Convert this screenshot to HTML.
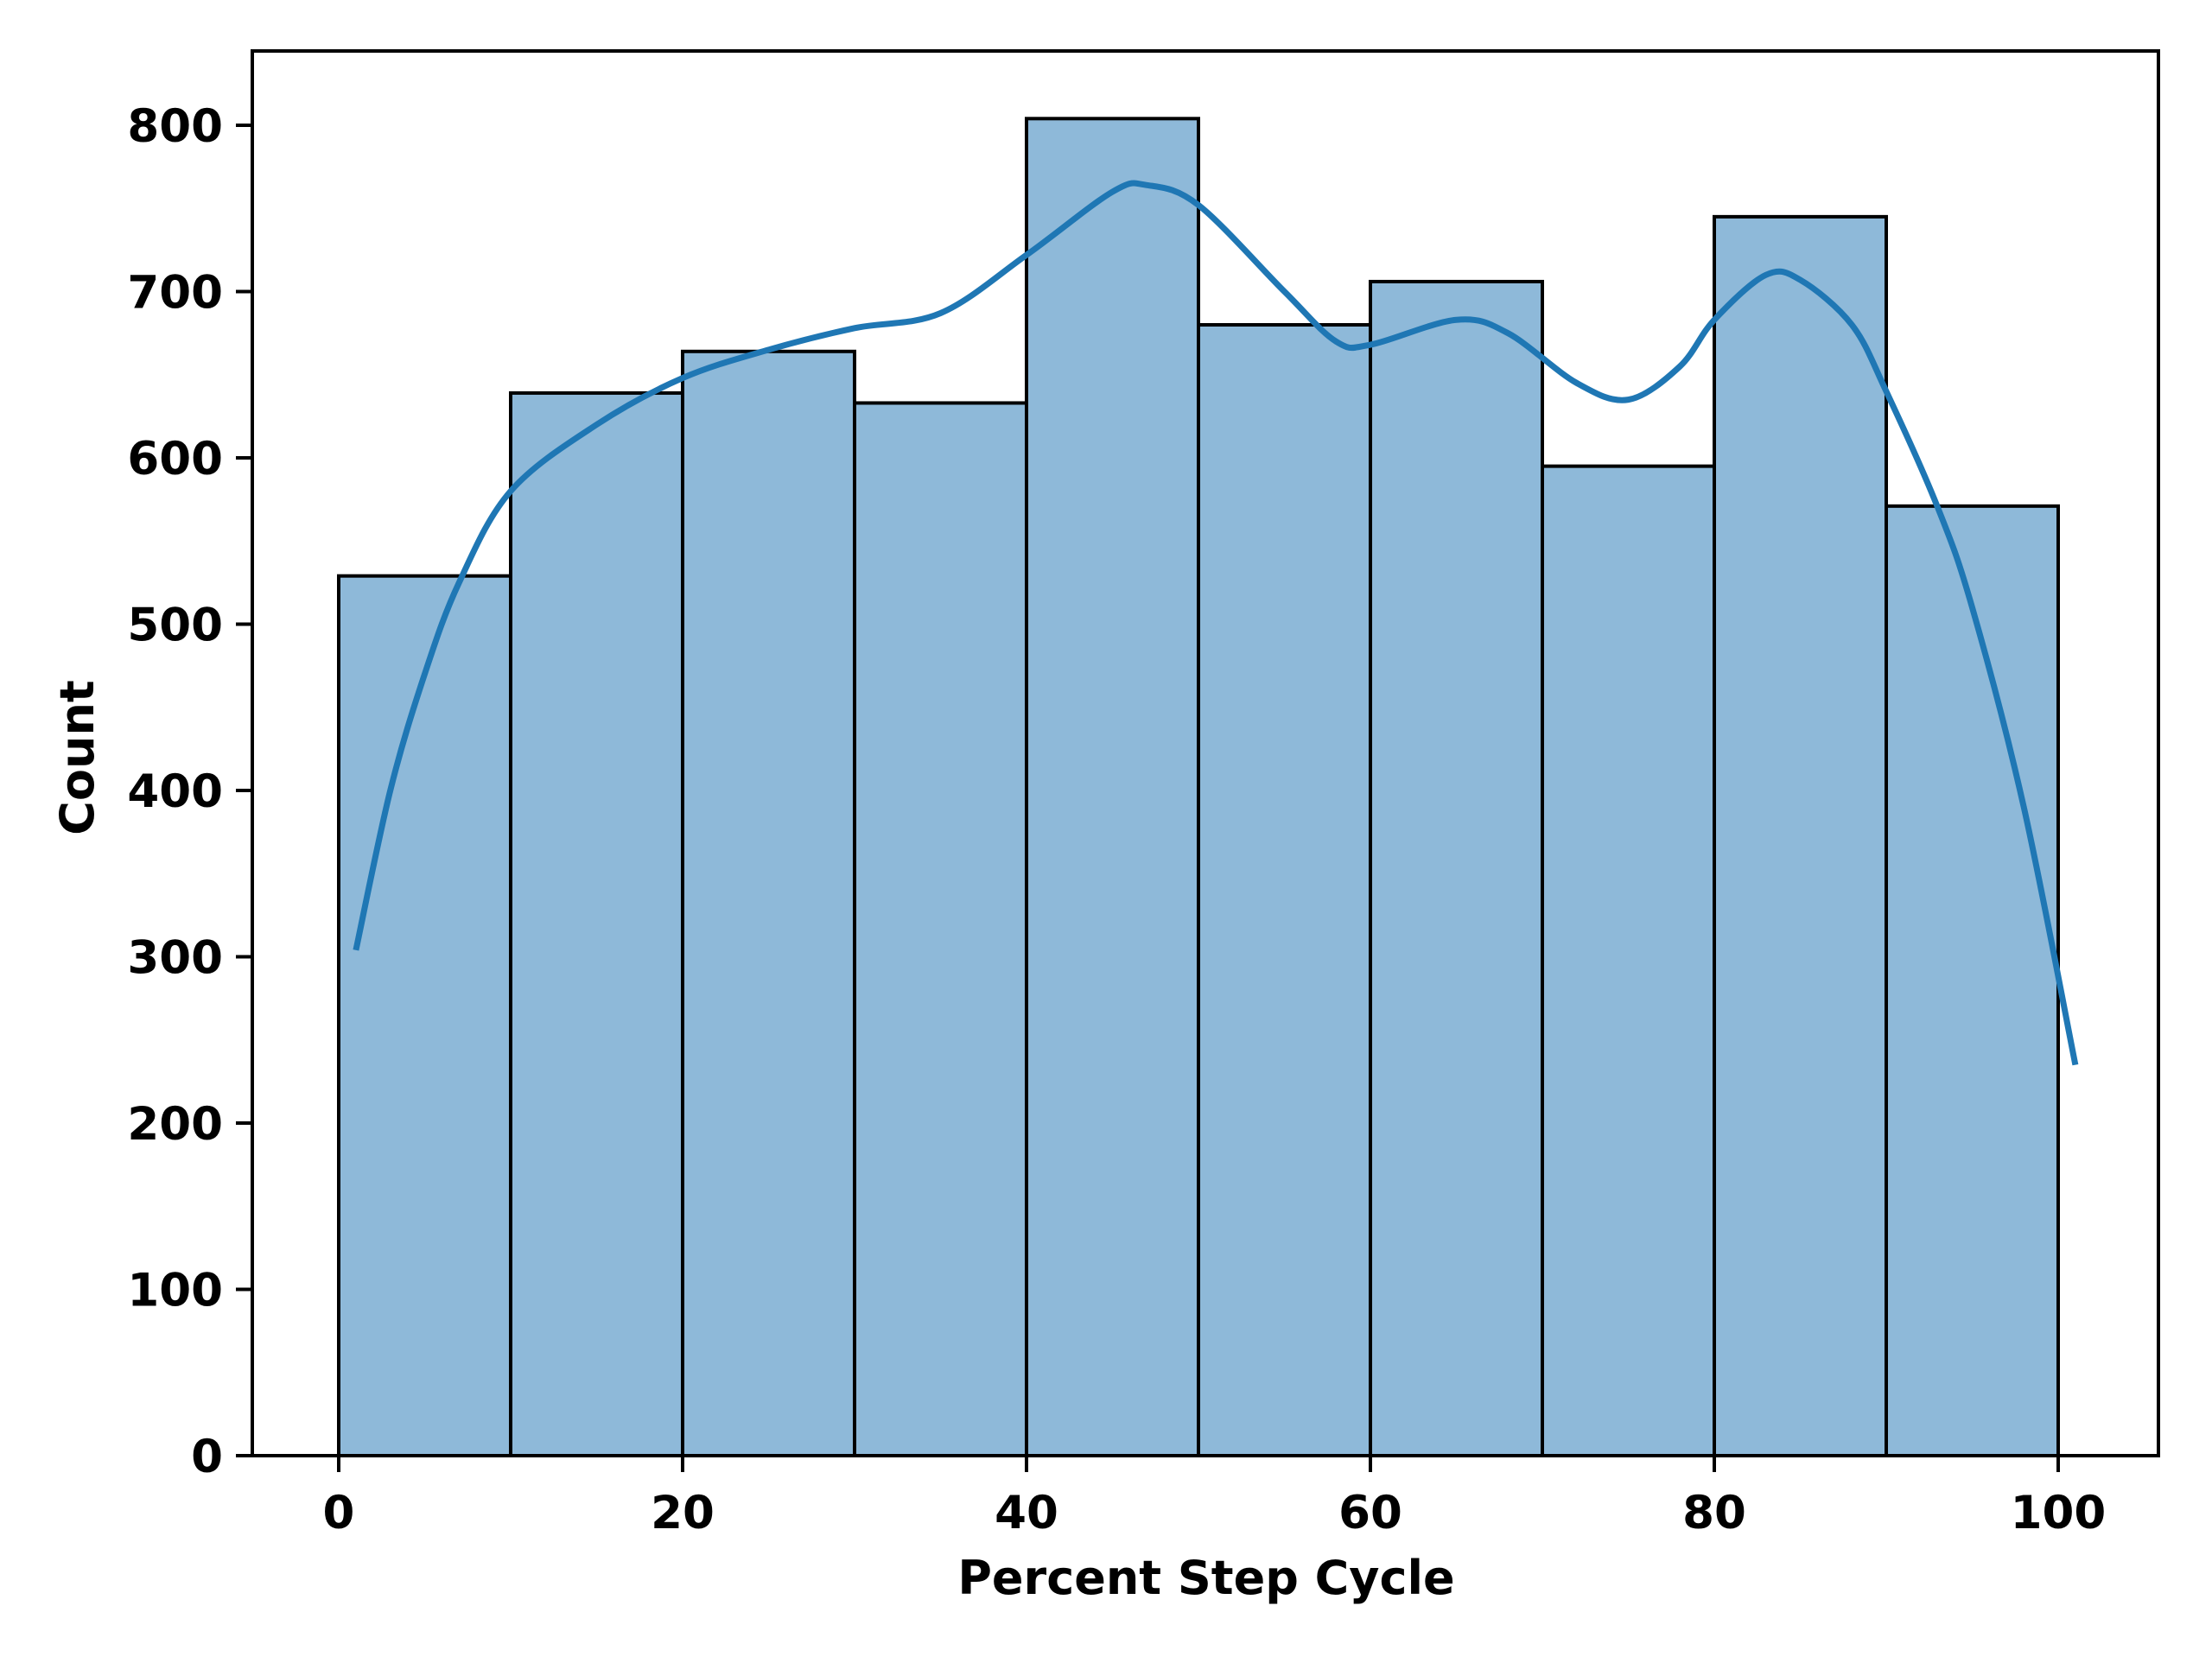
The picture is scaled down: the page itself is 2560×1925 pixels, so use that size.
<!DOCTYPE html>
<html><head><meta charset="utf-8"><style>
html,body{margin:0;padding:0;background:#fff;}
svg text{font-family:"DejaVu Sans","Liberation Sans",sans-serif;font-weight:bold;}
</style></head><body>
<svg id="chart" width="2560" height="1920" xmlns="http://www.w3.org/2000/svg">
<rect width="2560" height="1920" fill="#fff"/>
<g id="bars"></g>
<g id="kde"></g>
<g id="axes"></g>
<text x="1396" y="1845" font-size="54" text-anchor="middle">Percent Step Cycle</text>
<text x="0" y="0" font-size="54" text-anchor="middle" transform="translate(108,877) rotate(-90)">Count</text>
</svg>
<script>
const binStarts = [0,10,20,30,40,50,60,70,80,90];
const binWidth = 10;
const counts = [529,639,664,633,804,680,706,595,745,571];
const kdeX = [1,3,5,7,10,15,20,25,30,35,40,45,47,50,55,58,60,65,68,72,75,78,80,83,85,88,90,93,95,98,101];
const kdeY = [304,400,470,525,580,620,648,665,678,687,722,760,764,752,700,670,668,683,675,645,635,655,683,710,707,680,640,570,510,390,235];
const xTicks = [0,20,40,60,80,100];
const yTicks = [0,100,200,300,400,500,600,700,800];

const L=292,R=2498,T=59,B=1685;
const sx = v => 392 + v*(2382-392)/100;
const sy = v => 1685 - v*(1685-145)/800;
const NS="http://www.w3.org/2000/svg";
function mk(tag, attrs, parent){const e=document.createElementNS(NS,tag);for(const k in attrs)e.setAttribute(k,attrs[k]);parent.appendChild(e);return e;}

const bars=document.getElementById('bars');
counts.forEach((c,i)=>{
  const x0=sx(binStarts[i]), x1=sx(binStarts[i]+binWidth);
  const r=mk('rect',{x:x0,y:sy(c),width:x1-x0,height:sy(0)-sy(c),fill:'#8eb9d9',stroke:'#000','stroke-width':4},bars);
  
  
});

const kde=document.getElementById('kde');
const pts=kdeX.map((x,i)=>[sx(x),sy(kdeY[i])]);
let d='M'+pts[0][0]+','+pts[0][1];
for(let i=0;i<pts.length-1;i++){
  const p0=pts[i-1]||pts[i],p1=pts[i],p2=pts[i+1],p3=pts[i+2]||p2;
  const c1=[p1[0]+(p2[0]-p0[0])/6,p1[1]+(p2[1]-p0[1])/6];
  const c2=[p2[0]-(p3[0]-p1[0])/6,p2[1]-(p3[1]-p1[1])/6];
  d+=` C${c1[0]},${c1[1]} ${c2[0]},${c2[1]} ${p2[0]},${p2[1]}`;
}
const kp=mk('path',{d:d,fill:'none',stroke:'#1f77b4','stroke-width':7,'stroke-linejoin':'round'},kde);



const axes=document.getElementById('axes');
const frame=mk('rect',{x:L,y:T,width:R-L,height:B-T,fill:'none',stroke:'#000','stroke-width':4},axes);


xTicks.forEach(v=>{
  const x=sx(v);
  const t=mk('line',{x1:x,x2:x,y1:B,y2:B+19,stroke:'#000','stroke-width':4},axes);
  
  
  const lb=mk('text',{x:x,y:B+84,'font-size':53,'text-anchor':'middle'},axes);
  lb.textContent=v;
  
  
});
yTicks.forEach(v=>{
  const y=sy(v);
  const t=mk('line',{x1:L-19,x2:L,y1:y,y2:y,stroke:'#000','stroke-width':4},axes);
  
  
  const lb=mk('text',{x:L-34,y:y+19,'font-size':53,'text-anchor':'end'},axes);
  lb.textContent=v;
  
  
});
</script>
</body></html>
